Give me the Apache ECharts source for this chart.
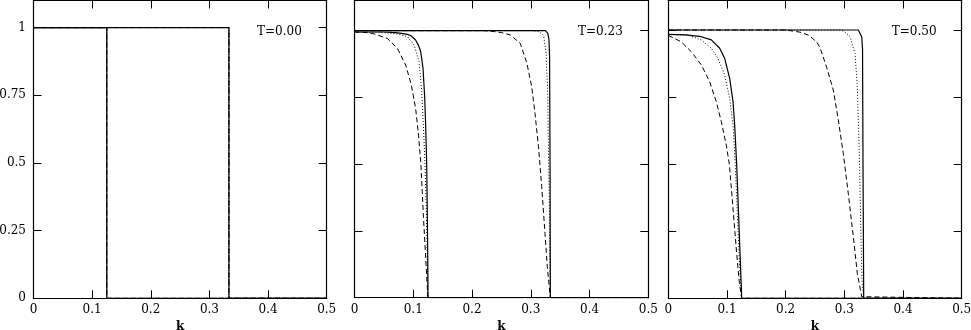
<!DOCTYPE html>
<html>
<head>
<meta charset="utf-8">
<script src="https://cdn.jsdelivr.net/npm/echarts@6/dist/echarts.min.js"></script>
<style>html,body{margin:0;padding:0;background:#fff}#c{width:971px;height:330px}</style>
</head>
<body>
<div id="c"></div>
<script>
// ---- data ----
var temperatureLabels = ['T=0.00', 'T=0.23', 'T=0.50'];
var xTickValues = [0, 0.1, 0.2, 0.3, 0.4, 0.5];
var xTickLabels = ['0', '0.1', '0.2', '0.3', '0.4', '0.5'];
var yTickValues = [0, 0.25, 0.5, 0.75, 1];
var yTickLabels = ['0', '0.25', '0.5', '0.75', '1'];
var axisName = 'k';

// T = 0.00 : all three curves coincide (step functions)
var t00_a = [[0,1],[0.125,1],[0.125,0],[0.5,0]];
var t00_b = [[0,1],[0.3333,1],[0.3333,0],[0.5,0]];

// T = 0.23
var t23_solid_a = [[0,0.995],[0.05,0.995],[0.07,0.993],[0.08,0.99],[0.09,0.986],[0.0956,0.982],[0.104,0.965],[0.109,0.945],[0.1127,0.921],[0.1166,0.859],[0.1194,0.753],[0.1211,0.647],[0.1229,0.497],[0.124,0.3],[0.1248,0.12],[0.125,0],[0.5,0]];
var t23_dot_a = [[0,0.995],[0.04,0.994],[0.06,0.991],[0.075,0.987],[0.09,0.978],[0.1016,0.946],[0.1098,0.884],[0.1144,0.772],[0.1172,0.647],[0.12,0.497],[0.1225,0.3],[0.1242,0.12],[0.125,0],[0.5,0]];
var t23_dash_a = [[0,0.995],[0.02,0.993],[0.0332,0.988],[0.0559,0.971],[0.0729,0.934],[0.0872,0.871],[0.0967,0.797],[0.104,0.709],[0.1085,0.62],[0.113,0.5],[0.1174,0.3],[0.122,0.116],[0.125,0],[0.5,0]];
var t23_solid_b = [[0,1],[0.325,1],[0.329,0.99],[0.331,0.965],[0.332,0.9],[0.3328,0.5],[0.3333,0],[0.5,0]];
var t23_dot_b = [[0,1],[0.3,1],[0.313,0.997],[0.3217,0.983],[0.3262,0.915],[0.3285,0.79],[0.3302,0.54],[0.3319,0.29],[0.3328,0.1],[0.3333,0],[0.5,0]];
var t23_dash_b = [[0,1],[0.22,1],[0.236,0.997],[0.25,0.993],[0.265,0.984],[0.282,0.953],[0.2934,0.878],[0.3016,0.79],[0.3072,0.69],[0.3131,0.566],[0.3186,0.416],[0.3242,0.241],[0.3281,0.116],[0.3333,0],[0.5,0]];

// T = 0.50
var t50_solid_a = [[0,0.984],[0.03,0.982],[0.0563,0.975],[0.0733,0.963],[0.0876,0.932],[0.0961,0.894],[0.1046,0.82],[0.1103,0.733],[0.1131,0.646],[0.1165,0.5],[0.12,0.3],[0.1225,0.15],[0.1245,0.04],[0.125,0],[0.5,0]];
var t50_dot_a = [[0,0.984],[0.0336,0.981],[0.0563,0.963],[0.0733,0.932],[0.0847,0.894],[0.0961,0.832],[0.1046,0.745],[0.1103,0.646],[0.1131,0.546],[0.116,0.4],[0.1195,0.22],[0.1225,0.08],[0.125,0],[0.5,0]];
var t50_dash_a = [[0,0.98],[0.0222,0.956],[0.0392,0.919],[0.0563,0.87],[0.0705,0.807],[0.0818,0.733],[0.0903,0.659],[0.0988,0.571],[0.104,0.5],[0.109,0.37],[0.116,0.18],[0.121,0.06],[0.125,0],[0.5,0]];
var t50_solid_b = [[0,1],[0.3238,1],[0.3267,0.995],[0.3296,0.975],[0.331,0.93],[0.3318,0.5],[0.333,0],[0.5,0]];
var t50_dot_b = [[0,1],[0.2926,1],[0.3,0.995],[0.3097,0.975],[0.3182,0.913],[0.3221,0.788],[0.3255,0.54],[0.3278,0.292],[0.33,0.068],[0.333,0],[0.5,0]];
var t50_dash_b = [[0,1],[0.2,1],[0.2244,0.992],[0.24,0.98],[0.2529,0.955],[0.2585,0.935],[0.27,0.86],[0.2812,0.776],[0.2897,0.665],[0.2982,0.54],[0.3067,0.391],[0.3153,0.23],[0.3221,0.093],[0.3296,0.006],[0.333,0],[0.5,0]];

// ---- layout / styling ----
var FONT = 'DejaVu Serif';
var panels = [
  {left: 33.5, width: 293.2, top: 0.5, height: 297.8, ymax: 1.1, yLabels: true,
   curves: {solid: [t00_a, t00_b], dot: [t00_a, t00_b], dash: [t00_a, t00_b]}},
  {left: 354.5, width: 293.8, top: 0.5, height: 297.2, ymax: 1.113, yLabels: false,
   curves: {solid: [t23_solid_a, t23_solid_b], dot: [t23_dot_a, t23_dot_b], dash: [t23_dash_a, t23_dash_b]}},
  {left: 668.3, width: 293.4, top: 0.5, height: 297.8, ymax: 1.11, yLabels: false,
   curves: {solid: [t50_solid_a, t50_solid_b], dot: [t50_dot_a, t50_dot_b], dash: [t50_dash_a, t50_dash_b]}}
];

function lookup(values, labels, v) {
  for (var i = 0; i < values.length; i++) {
    if (Math.abs(values[i] - v) < 1e-6) return labels[i];
  }
  return '';
}

var lineStyles = {
  solid: {type: 'solid', width: 1.2},
  dot: {type: [1, 2], width: 1},
  dash: {type: [5, 3], width: 1}
};

var grids = [], xAxes = [], yAxes = [], series = [], graphics = [];
panels.forEach(function (p, i) {
  grids.push({left: p.left, top: p.top, width: p.width, height: p.height,
    containLabel: false, outerBoundsMode: 'none', show: false});
  var axisLine = {show: true, onZero: false, lineStyle: {color: '#000', width: 1.2}};
  var tick = {show: true, inside: true, length: 8, lineStyle: {color: '#000', width: 1}};
  xAxes.push({
    type: 'value', gridIndex: i, position: 'bottom', min: 0, max: 0.5, interval: 0.1,
    axisLine: axisLine, axisTick: tick, splitLine: {show: false},
    axisLabel: {show: true, margin: 6, color: '#000', fontFamily: FONT, fontSize: 12,
      formatter: function (v) { return lookup(xTickValues, xTickLabels, v); }},
    name: axisName, nameLocation: 'middle', nameGap: 19,
    nameTextStyle: {color: '#000', fontFamily: FONT, fontSize: 12, fontWeight: 'bold'}
  });
  xAxes.push({
    type: 'value', gridIndex: i, position: 'top', min: 0, max: 0.5, interval: 0.1,
    axisLine: axisLine, axisTick: tick, splitLine: {show: false}, axisLabel: {show: false}
  });
  yAxes.push({
    type: 'value', gridIndex: i, position: 'left', min: 0, max: p.ymax, interval: 0.25,
    axisLine: axisLine, axisTick: tick, splitLine: {show: false},
    axisLabel: {show: p.yLabels, margin: 7.5, color: '#000', fontFamily: FONT, fontSize: 12,
      showMaxLabel: false,
      formatter: function (v) { return lookup(yTickValues, yTickLabels, v); }}
  });
  yAxes.push({
    type: 'value', gridIndex: i, position: 'right', min: 0, max: p.ymax, interval: 0.25,
    axisLine: axisLine, axisTick: tick, splitLine: {show: false}, axisLabel: {show: false}
  });
  ['dash', 'dot', 'solid'].forEach(function (style) {
    p.curves[style].forEach(function (data) {
      series.push({
        type: 'line', xAxisIndex: 2 * i, yAxisIndex: 2 * i, data: data,
        showSymbol: false, symbol: 'none', smooth: false, silent: true,
        lineStyle: {color: '#000', width: lineStyles[style].width, type: lineStyles[style].type},
        z: 3
      });
    });
  });
  graphics.push({
    type: 'text', left: p.left + 223.5, top: 26,
    style: {text: temperatureLabels[i], fill: '#000', font: '12px "' + FONT + '"'}
  });
});

var chart = echarts.init(document.getElementById('c'), null, {renderer: 'canvas'});
chart.setOption({
  animation: false,
  backgroundColor: '#fff',
  grid: grids,
  xAxis: xAxes,
  yAxis: yAxes,
  series: series,
  graphic: graphics
});
</script>
</body>
</html>
